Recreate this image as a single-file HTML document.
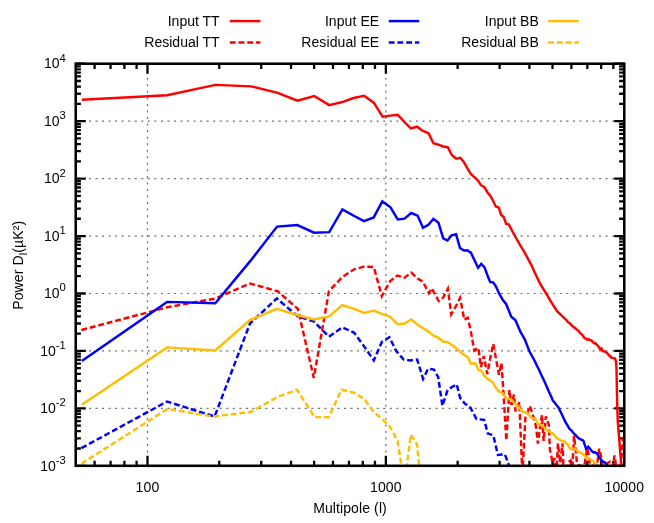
<!DOCTYPE html>
<html><head><meta charset="utf-8"><title>plot</title>
<style>
html,body{margin:0;padding:0;background:#fff;}
body{width:654px;height:523px;overflow:hidden;}
svg{display:block;will-change:transform;}
text{font-family:"Liberation Sans",sans-serif;font-size:14.03px;fill:#000;}
.g{stroke:#6e6e6e;stroke-width:1.2;stroke-dasharray:2 4.54;stroke-dashoffset:-0.15;fill:none;}
.t{stroke:#000;stroke-width:2.3;fill:none;}
.c{fill:none;stroke-width:2.45;stroke-linejoin:miter;stroke-linecap:butt;}
.d{stroke-dasharray:5.85 2.89;}
</style></head><body>
<svg width="654" height="523" viewBox="0 0 654 523">
<rect x="0" y="0" width="654" height="523" fill="#fff"/>
<defs><clipPath id="cp"><rect x="75.73" y="63.73" width="548.54" height="402.07"/></clipPath></defs>

<path class="g" d="M75.73,408.36 H624.27"/>
<path class="g" d="M75.73,350.92 H624.27"/>
<path class="g" d="M75.73,293.48 H624.27"/>
<path class="g" d="M75.73,236.05 H624.27"/>
<path class="g" d="M75.73,178.61 H624.27"/>
<path class="g" d="M75.73,121.17 H624.27"/>
<path class="g" d="M147.49,465.8 V63.73"/>
<path class="g" d="M385.88,465.8 V63.73"/>
<path class="t" d="M75.73,465.80 h10.1 M624.27,465.80 h-10.1 M75.73,448.51 h5.15 M624.27,448.51 h-5.15 M75.73,438.39 h5.15 M624.27,438.39 h-5.15 M75.73,431.22 h5.15 M624.27,431.22 h-5.15 M75.73,425.65 h5.15 M624.27,425.65 h-5.15 M75.73,421.10 h5.15 M624.27,421.10 h-5.15 M75.73,417.26 h5.15 M624.27,417.26 h-5.15 M75.73,413.93 h5.15 M624.27,413.93 h-5.15 M75.73,410.99 h5.15 M624.27,410.99 h-5.15 M75.73,408.36 h10.1 M624.27,408.36 h-10.1 M75.73,391.07 h5.15 M624.27,391.07 h-5.15 M75.73,380.96 h5.15 M624.27,380.96 h-5.15 M75.73,373.78 h5.15 M624.27,373.78 h-5.15 M75.73,368.21 h5.15 M624.27,368.21 h-5.15 M75.73,363.67 h5.15 M624.27,363.67 h-5.15 M75.73,359.82 h5.15 M624.27,359.82 h-5.15 M75.73,356.49 h5.15 M624.27,356.49 h-5.15 M75.73,353.55 h5.15 M624.27,353.55 h-5.15 M75.73,350.92 h10.1 M624.27,350.92 h-10.1 M75.73,333.63 h5.15 M624.27,333.63 h-5.15 M75.73,323.52 h5.15 M624.27,323.52 h-5.15 M75.73,316.34 h5.15 M624.27,316.34 h-5.15 M75.73,310.78 h5.15 M624.27,310.78 h-5.15 M75.73,306.23 h5.15 M624.27,306.23 h-5.15 M75.73,302.38 h5.15 M624.27,302.38 h-5.15 M75.73,299.05 h5.15 M624.27,299.05 h-5.15 M75.73,296.11 h5.15 M624.27,296.11 h-5.15 M75.73,293.48 h10.1 M624.27,293.48 h-10.1 M75.73,276.19 h5.15 M624.27,276.19 h-5.15 M75.73,266.08 h5.15 M624.27,266.08 h-5.15 M75.73,258.90 h5.15 M624.27,258.90 h-5.15 M75.73,253.34 h5.15 M624.27,253.34 h-5.15 M75.73,248.79 h5.15 M624.27,248.79 h-5.15 M75.73,244.94 h5.15 M624.27,244.94 h-5.15 M75.73,241.61 h5.15 M624.27,241.61 h-5.15 M75.73,238.67 h5.15 M624.27,238.67 h-5.15 M75.73,236.05 h10.1 M624.27,236.05 h-10.1 M75.73,218.75 h5.15 M624.27,218.75 h-5.15 M75.73,208.64 h5.15 M624.27,208.64 h-5.15 M75.73,201.46 h5.15 M624.27,201.46 h-5.15 M75.73,195.90 h5.15 M624.27,195.90 h-5.15 M75.73,191.35 h5.15 M624.27,191.35 h-5.15 M75.73,187.50 h5.15 M624.27,187.50 h-5.15 M75.73,184.17 h5.15 M624.27,184.17 h-5.15 M75.73,181.24 h5.15 M624.27,181.24 h-5.15 M75.73,178.61 h10.1 M624.27,178.61 h-10.1 M75.73,161.32 h5.15 M624.27,161.32 h-5.15 M75.73,151.20 h5.15 M624.27,151.20 h-5.15 M75.73,144.03 h5.15 M624.27,144.03 h-5.15 M75.73,138.46 h5.15 M624.27,138.46 h-5.15 M75.73,133.91 h5.15 M624.27,133.91 h-5.15 M75.73,130.07 h5.15 M624.27,130.07 h-5.15 M75.73,126.73 h5.15 M624.27,126.73 h-5.15 M75.73,123.80 h5.15 M624.27,123.80 h-5.15 M75.73,121.17 h10.1 M624.27,121.17 h-10.1 M75.73,103.88 h5.15 M624.27,103.88 h-5.15 M75.73,93.76 h5.15 M624.27,93.76 h-5.15 M75.73,86.59 h5.15 M624.27,86.59 h-5.15 M75.73,81.02 h5.15 M624.27,81.02 h-5.15 M75.73,76.47 h5.15 M624.27,76.47 h-5.15 M75.73,72.63 h5.15 M624.27,72.63 h-5.15 M75.73,69.30 h5.15 M624.27,69.30 h-5.15 M75.73,66.36 h5.15 M624.27,66.36 h-5.15 M75.73,63.73 h10.1 M624.27,63.73 h-10.1 M94.61,465.8 v-5.15 M94.61,63.73 v5.15 M110.57,465.8 v-5.15 M110.57,63.73 v5.15 M124.39,465.8 v-5.15 M124.39,63.73 v5.15 M136.58,465.8 v-5.15 M136.58,63.73 v5.15 M147.49,465.8 v-10.1 M147.49,63.73 v10.1 M219.25,465.8 v-5.15 M219.25,63.73 v5.15 M261.23,465.8 v-5.15 M261.23,63.73 v5.15 M291.02,465.8 v-5.15 M291.02,63.73 v5.15 M314.12,465.8 v-5.15 M314.12,63.73 v5.15 M332.99,465.8 v-5.15 M332.99,63.73 v5.15 M348.95,465.8 v-5.15 M348.95,63.73 v5.15 M362.78,465.8 v-5.15 M362.78,63.73 v5.15 M374.97,465.8 v-5.15 M374.97,63.73 v5.15 M385.88,465.8 v-10.1 M385.88,63.73 v10.1 M457.64,465.8 v-5.15 M457.64,63.73 v5.15 M499.62,465.8 v-5.15 M499.62,63.73 v5.15 M529.41,465.8 v-5.15 M529.41,63.73 v5.15 M552.51,465.8 v-5.15 M552.51,63.73 v5.15 M571.38,465.8 v-5.15 M571.38,63.73 v5.15 M587.34,465.8 v-5.15 M587.34,63.73 v5.15 M601.17,465.8 v-5.15 M601.17,63.73 v5.15 M613.36,465.8 v-5.15 M613.36,63.73 v5.15"/>
<g clip-path="url(#cp)">
<path class="c" stroke="#ff0000" d="M81.80,99.70 L167.05,95.30 L215.40,84.90 L251.10,86.40 L277.60,92.80 L297.40,100.70 L314.20,96.00 L329.20,105.10 L342.30,102.05 L353.60,98.00 L364.20,95.80 L373.95,102.90 L382.60,116.60 L390.10,115.60 L397.70,114.70 L404.40,122.00 L410.80,128.40 L417.05,126.70 L422.90,130.90 L428.50,133.10 L433.40,143.20 L438.60,144.70 L443.10,146.50 L447.70,147.20 L452.00,155.30 L456.20,158.60 L460.30,157.80 L463.80,162.00 L467.50,168.70 L470.90,174.00 L477.60,180.10 L481.00,185.20 L484.30,187.20 L487.70,192.75 L490.60,196.10 L493.30,201.20 L495.80,206.50 L498.60,207.40 L501.20,215.00 L503.70,217.10 L506.20,223.90 L508.70,224.40 L515.50,237.00 L520.05,245.00 L525.10,253.40 L531.00,264.30 L535.20,273.60 L540.20,284.00 L546.10,293.30 L551.20,302.20 L557.05,311.10 L563.80,317.70 L565.05,318.81 L566.30,319.91 L567.55,321.58 L568.80,322.70 L570.07,323.46 L571.35,325.09 L572.62,326.08 L573.90,327.40 L575.33,328.09 L576.75,329.81 L578.17,330.42 L579.60,332.20 L580.83,333.64 L582.05,334.65 L583.27,336.18 L584.50,338.30 L585.88,338.66 L587.25,339.77 L588.62,339.11 L590.00,340.20 L591.38,340.47 L592.75,341.93 L594.12,343.27 L595.50,343.20 L596.70,344.78 L597.90,345.86 L599.10,347.50 L600.33,349.41 L601.55,348.40 L602.77,351.05 L604.00,351.20 L605.23,351.80 L606.45,352.54 L607.67,353.54 L608.90,355.50 L610.13,355.84 L611.37,357.88 L612.60,357.90 L615.00,358.50 L616.00,361.60 L616.50,368.90 L617.10,400.00 L617.75,420.60 L621.20,464.50 L621.50,470.00"/>
<path class="c d" stroke="#ff0000" d="M81.40,330.00 L167.00,307.30 L215.20,298.60 L250.00,283.50 L277.60,291.20 L297.80,308.80 L313.80,377.90 L328.90,291.20 L342.40,276.90 L354.20,269.30 L364.20,266.60 L373.80,267.00 L381.80,296.20 L390.20,281.10 L397.25,275.50 L404.50,277.70 L411.20,272.70 L417.60,278.55 L422.90,281.70 L428.90,293.20 L431.70,288.20 L438.70,301.00 L443.00,297.80 L447.90,288.70 L451.25,314.25 L456.00,306.00 L460.10,297.90 L464.25,319.80 L467.80,317.80 L470.80,331.40 L474.30,350.60 L478.40,347.90 L480.90,367.20 L483.90,356.10 L487.30,374.00 L490.30,358.00 L493.25,343.80 L496.20,360.00 L499.00,374.70 L501.50,363.00 L503.85,398.80 L506.30,440.50 L509.40,390.00 L511.50,405.00 L513.90,394.60 L515.50,411.40 L519.30,402.20 L522.40,475.00 L525.40,417.50 L530.00,406.10 L534.60,420.60 L536.20,428.00 L537.90,443.50 L540.00,428.00 L541.90,415.20 L543.60,441.00 L545.90,416.30 L548.80,424.90 L549.90,450.00 L551.20,455.00 L552.50,463.00 L554.50,458.00 L556.20,482.00 L557.90,443.30 L560.20,463.00 L562.50,443.30 L563.80,476.00 L566.00,482.00 L568.50,462.00 L570.50,460.50 L572.00,476.00 L574.00,435.80 L576.30,455.00 L577.50,476.00 L579.50,463.00 L581.50,482.00 L583.50,472.00 L585.50,458.00 L587.30,448.20 L589.00,456.00 L590.50,472.00 L593.00,466.50 L595.00,476.00 L597.50,462.00 L599.20,448.70 L601.00,456.00 L603.00,466.00 L604.50,476.00 L607.50,463.00 L609.50,462.00 L611.00,476.00 L613.50,462.00 L614.50,455.50 L615.50,462.00 L617.00,476.00 L620.50,470.00 L623.00,438.00"/>
<path class="c" stroke="#0000ff" d="M81.80,361.10 L167.05,301.90 L215.30,303.30 L250.80,260.40 L277.10,226.60 L297.30,225.10 L314.10,232.65 L329.25,232.10 L342.40,209.40 L353.80,215.80 L363.90,221.20 L373.70,217.40 L382.30,201.40 L390.50,207.30 L397.75,219.40 L404.50,218.60 L411.20,213.00 L417.60,215.60 L423.00,227.85 L428.40,224.80 L433.40,218.90 L438.50,222.80 L443.20,238.30 L447.40,240.50 L451.60,235.40 L456.10,234.20 L460.00,248.00 L463.90,250.55 L467.20,250.20 L470.90,252.70 L478.10,267.70 L481.30,263.80 L484.70,267.70 L487.70,276.10 L490.20,282.00 L493.10,282.30 L495.80,286.20 L499.50,294.20 L502.85,299.96 L506.20,304.20 L511.30,316.80 L515.50,320.30 L520.50,331.90 L522.80,335.80 L525.10,340.10 L527.20,345.61 L529.30,351.00 L531.27,354.77 L533.23,358.24 L535.20,362.00 L537.17,366.24 L539.13,370.04 L541.10,374.60 L543.07,378.42 L545.03,382.74 L547.00,387.20 L548.95,391.83 L550.90,396.06 L552.85,400.60 L554.77,402.75 L556.68,405.35 L558.60,407.60 L560.43,411.45 L562.27,415.18 L564.10,419.30 L565.93,422.83 L567.77,425.93 L569.60,428.90 L571.50,430.59 L573.40,432.99 L575.30,434.93 L577.20,436.90 L579.23,438.61 L581.27,439.67 L583.30,440.60 L586.10,448.85 L588.20,446.80 L589.90,448.55 L591.60,450.90 L593.43,452.53 L595.27,452.21 L597.10,453.70 L598.83,456.33 L600.55,459.20 L602.60,461.37 L604.65,462.19 L606.70,464.50 L610.00,470.00"/>
<path class="c d" stroke="#0000ff" d="M81.40,448.10 L167.06,401.50 L214.60,416.50 L250.00,323.50 L276.80,298.40 L297.80,316.40 L313.80,321.40 L328.90,336.70 L342.40,327.30 L354.20,332.80 L364.20,346.50 L373.80,360.40 L381.90,341.90 L389.40,337.30 L396.20,351.10 L403.70,359.50 L410.50,360.40 L417.20,359.50 L423.10,378.90 L428.10,368.80 L434.00,369.60 L438.20,377.20 L442.40,405.90 L447.50,390.30 L452.00,387.00 L456.70,384.40 L460.10,397.90 L465.00,403.80 L469.60,406.10 L476.50,419.10 L484.10,419.80 L487.90,433.60 L493.30,435.10 L497.90,455.00 L504.80,454.20 L508.60,464.20 L511.00,472.00"/>
<path class="c" stroke="#ffbe00" d="M81.80,404.85 L167.06,347.40 L215.20,350.40 L250.00,320.10 L276.80,308.80 L297.80,315.20 L313.80,319.40 L328.90,316.40 L342.40,305.00 L354.20,308.80 L364.20,313.00 L373.70,310.50 L381.80,313.90 L390.20,316.90 L397.75,324.30 L404.50,323.50 L411.20,319.40 L417.60,324.80 L423.50,328.50 L428.40,331.50 L433.90,335.90 L438.10,337.50 L443.30,341.80 L447.50,342.00 L455.00,347.20 L461.20,352.70 L468.10,357.50 L470.80,363.70 L472.88,363.34 L474.95,363.00 L476.67,366.15 L478.40,369.90 L481.10,370.60 L482.85,373.46 L484.60,376.10 L487.00,378.34 L489.40,380.20 L491.10,381.30 L492.80,382.30 L495.00,386.40 L496.90,389.09 L498.80,391.20 L500.70,392.00 L502.60,393.10 L504.55,395.91 L506.50,398.40 L508.85,398.93 L511.20,399.30 L513.35,401.77 L515.50,404.10 L517.20,405.71 L518.90,407.40 L520.80,409.86 L522.70,411.70 L524.60,412.37 L526.50,412.20 L529.40,415.60 L531.05,416.97 L532.70,418.40 L535.10,418.40 L538.00,423.70 L539.90,424.82 L541.80,425.60 L543.40,426.57 L545.00,428.68 L546.60,429.90 L548.50,431.03 L550.40,432.38 L552.30,432.80 L554.55,435.81 L556.80,438.10 L559.10,439.30 L561.40,441.00 L563.10,441.12 L564.80,441.50 L566.55,443.70 L568.30,445.50 L570.50,449.00 L572.80,448.41 L575.10,449.00 L576.85,450.65 L578.60,452.40 L580.30,452.57 L582.00,453.60 L583.70,454.60 L585.40,456.60 L587.70,457.46 L590.00,459.50 L593.00,461.00 L595.05,463.12 L597.10,464.50 L602.00,470.00"/>
<path class="c d" stroke="#ffbe00" d="M81.40,463.70 L167.60,408.90 L212.90,416.50 L250.70,412.00 L277.20,397.10 L297.00,389.70 L314.60,417.10 L328.90,417.10 L341.50,389.70 L354.20,392.70 L364.20,399.00 L374.00,412.40 L382.60,419.50 L390.10,427.00 L397.70,441.00 L404.40,485.00 L410.80,434.60 L417.05,444.50 L422.90,506.00"/>
</g>
<rect x="75.73" y="63.73" width="548.54" height="402.07" fill="none" stroke="#000" stroke-width="2.55"/>
<text x="219.65" y="26.15" text-anchor="end" letter-spacing="0">Input TT</text>
<text x="219.65" y="47.45" text-anchor="end" letter-spacing="0">Residual TT</text>
<path class="c" stroke="#ff0000" d="M229.80,21.1 H260.40"/>
<path class="c d" stroke="#ff0000" d="M229.80,42.4 H260.40"/>
<text x="379.3" y="26.15" text-anchor="end" letter-spacing="0.08">Input EE</text>
<text x="379.3" y="47.45" text-anchor="end" letter-spacing="0.08">Residual EE</text>
<path class="c" stroke="#0000ff" d="M388.70,21.1 H419.30"/>
<path class="c d" stroke="#0000ff" d="M388.70,42.4 H419.30"/>
<text x="538.9" y="26.15" text-anchor="end" letter-spacing="0.05">Input BB</text>
<text x="538.9" y="47.45" text-anchor="end" letter-spacing="0.05">Residual BB</text>
<path class="c" stroke="#ffbe00" d="M548.20,21.1 H578.80"/>
<path class="c d" stroke="#ffbe00" d="M548.20,42.4 H578.80"/>
<text x="65.75" y="470.50" text-anchor="end">10<tspan font-size="11.22" dy="-6.8">-3</tspan></text>
<text x="65.75" y="413.06" text-anchor="end">10<tspan font-size="11.22" dy="-6.8">-2</tspan></text>
<text x="65.75" y="355.62" text-anchor="end">10<tspan font-size="11.22" dy="-6.8">-1</tspan></text>
<text x="65.75" y="298.18" text-anchor="end">10<tspan font-size="11.22" dy="-6.8">0</tspan></text>
<text x="65.75" y="240.75" text-anchor="end">10<tspan font-size="11.22" dy="-6.8">1</tspan></text>
<text x="65.75" y="183.31" text-anchor="end">10<tspan font-size="11.22" dy="-6.8">2</tspan></text>
<text x="65.75" y="125.87" text-anchor="end">10<tspan font-size="11.22" dy="-6.8">3</tspan></text>
<text x="65.75" y="68.43" text-anchor="end">10<tspan font-size="11.22" dy="-6.8">4</tspan></text>
<text x="147.49" y="491.5" text-anchor="middle" letter-spacing="0.12">100</text>
<text x="385.88" y="491.5" text-anchor="middle" letter-spacing="0.12">1000</text>
<text x="624.27" y="491.5" text-anchor="middle" letter-spacing="0.12">10000</text>
<text x="350.00" y="512.5" text-anchor="middle" letter-spacing="0.1">Multipole (l)</text>
<text transform="translate(23.15,265.26) rotate(-90)" text-anchor="middle" letter-spacing="0.1">Power D<tspan font-size="11.22" dy="3.5">l</tspan><tspan dy="-3.5">(µK²)</tspan></text>
</svg></body></html>
